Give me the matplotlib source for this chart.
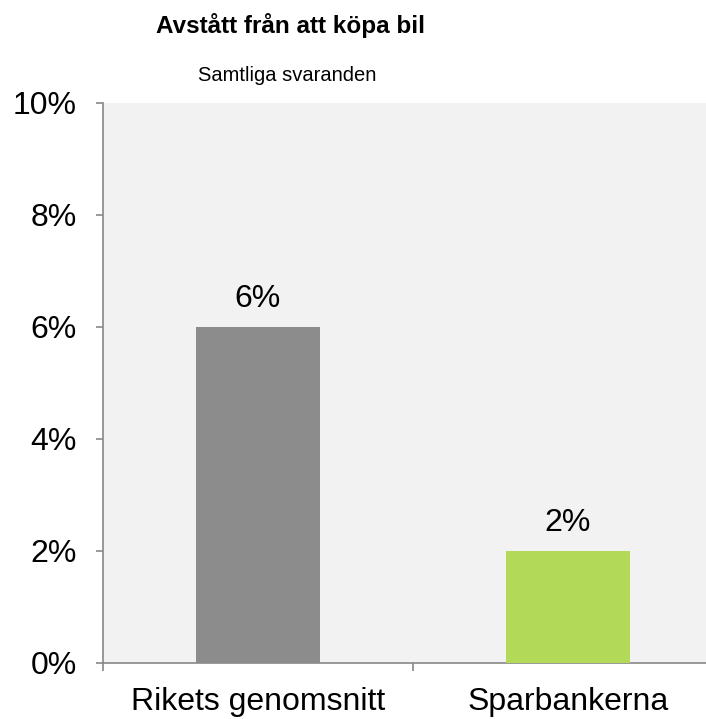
import matplotlib.pyplot as plt
import numpy as np

plt.rcParams['font.family'] = ['Liberation Sans', 'DejaVu Sans']

## Data
categories = ["Rikets genomsnitt", "Sparbankerna"]
values = [6, 2]
bar_colors = ["#8c8c8c", "#b2da58"]
yticks = [0, 2, 4, 6, 8, 10]

fig = plt.figure(figsize=(7.06, 7.19), dpi=100)
# plot area runs past the right edge of the picture, as in the original
ax = fig.add_axes([103 / 706, 1 - 663 / 719, 620 / 706, 560 / 719])
ax.set_facecolor("#f2f2f2")

x = np.arange(len(categories))
ax.bar(x, values, width=0.4, color=bar_colors, zorder=3)
for xi, v in zip(x, values):
    ax.text(xi, v + 0.36, "%d%%" % v, ha="center", va="baseline", fontsize=23)

ax.set_xlim(-0.5, 1.5)
ax.set_ylim(0, 10)
ax.set_yticks(yticks)
ax.set_yticklabels(["%d%%" % t for t in yticks], fontsize=23)
ax.set_xticks(x)
ax.set_xticklabels(categories, fontsize=23)
ax.tick_params(axis="x", length=0, pad=17)
ax.set_xticks([-0.5, 0.5], minor=True)
ax.tick_params(axis="x", which="minor", length=6, color="#888888", width=1.2)
ax.tick_params(axis="y", length=5, color="#888888", width=1.2, pad=14)

for side in ["top", "right"]:
    ax.spines[side].set_visible(False)
for side in ["left", "bottom"]:
    ax.spines[side].set_color("#888888")
    ax.spines[side].set_linewidth(1.2)

fig.text(291 / 706, 1 - 33 / 719, "Avstått från att köpa bil",
         ha="center", va="baseline", fontsize=17.5, fontweight="bold")
fig.text(287 / 706, 1 - 81 / 719, "Samtliga svaranden",
         ha="center", va="baseline", fontsize=14.5)

fig.savefig("out.png", dpi=100)
